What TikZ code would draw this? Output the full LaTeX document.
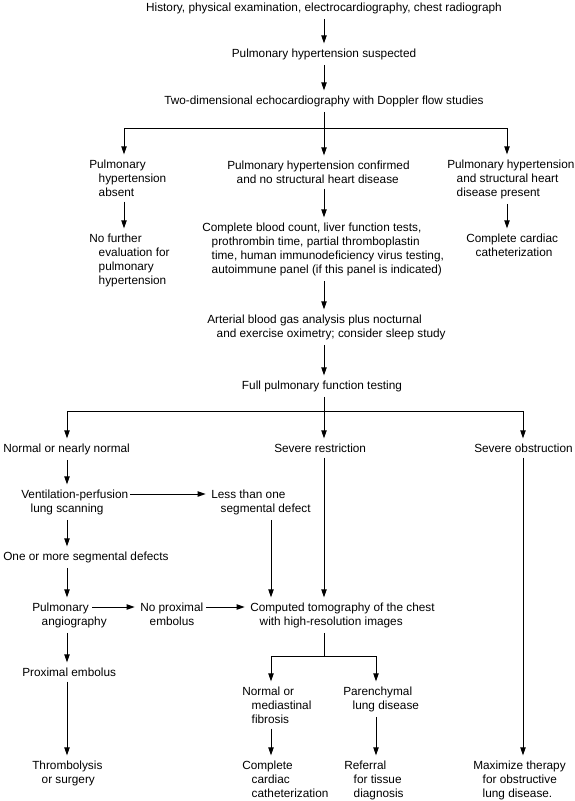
\documentclass[tikz,border=0pt]{standalone}
\usepackage{fontspec}
\setmainfont{Liberation Sans}
\usetikzlibrary{arrows.meta,calc}
\newcommand\hi{\hspace*{7.1pt}}
\begin{document}
\begin{tikzpicture}[x=0.75pt,y=-0.75pt,
  txt/.style={inner sep=0pt, anchor=north west, align=left, font=\fontsize{8.85pt}{10.5pt}\selectfont},
  ctxt/.style={txt, anchor=north},
  ln/.style={line width=0.75pt},
  arr/.style={ln, -{Triangle[length=6pt,width=4pt]}, shorten >=4pt},
  gs/.style={shorten <=3.5pt}]
\useasboundingbox (0,0) rectangle (575,801);

% nodes
\node[ctxt] (hist) at (324,2.7) {History, physical examination, electrocardiography, chest radiograph};
\node[ctxt] (susp) at (324,48.7) {Pulmonary hypertension suspected};
\node[ctxt] (echo) at (324,95.7) {Two-dimensional echocardiography with Doppler flow studies};
\node[txt] (absent) at (89,159.7) {Pulmonary\\\hi hypertension\\\hi absent};
\node[txt] (conf) at (227,160.7) {Pulmonary hypertension confirmed\\\hi and no structural heart disease};
\node[txt] (struct) at (447,159.7) {Pulmonary hypertension\\\hi and structural heart\\\hi disease present};
\node[txt] (nofur) at (89,233.7) {No further\\\hi evaluation for\\\hi pulmonary\\\hi hypertension};
\node[txt] (cbc) at (202,222.7) {Complete blood count, liver function tests,\\\hi prothrombin time, partial thromboplastin\\\hi time, human immunodeficiency virus testing,\\\hi autoimmune panel (if this panel is indicated)};
\node[txt] (cath1) at (466,233.7) {Complete cardiac\\\hi catheterization};
\node[txt] (abg) at (207,314.7) {Arterial blood gas analysis plus nocturnal\\\hi and exercise oximetry; consider sleep study};
\node[ctxt] (pft) at (322,380.7) {Full pulmonary function testing};
\node[txt] (normal) at (3,443.7) {Normal or nearly normal};
\node[txt] (restr) at (274,443.7) {Severe restriction};
\node[txt] (obstr) at (474,443.7) {Severe obstruction};
\node[txt] (vq) at (21,489.7) {Ventilation-perfusion\\\hi lung scanning};
\node[txt] (less) at (211,489.7) {Less than one\\\hi segmental defect};
\node[txt] (onemore) at (3,551.7) {One or more segmental defects};
\node[txt] (angio) at (32,602.7) {Pulmonary\\\hi angiography};
\node[txt] (noprox) at (140,602.7) {No proximal\\\hi embolus};
\node[txt] (ct) at (250,602.7) {Computed tomography of the chest\\\hi with high-resolution images};
\node[txt] (prox) at (22,667.7) {Proximal embolus};
\node[txt] (normfib) at (242,686.7) {Normal or\\\hi mediastinal\\\hi fibrosis};
\node[txt] (paren) at (343,686.7) {Parenchymal\\\hi lung disease};
\node[txt] (thromb) at (32,760.7) {Thrombolysis\\\hi or surgery};
\node[txt] (cath2) at (242,760.7) {Complete\\\hi cardiac\\\hi catheterization};
\node[txt] (referral) at (344,760.7) {Referral\\\hi for tissue\\\hi diagnosis};
\node[txt] (maxim) at (473,760.7) {Maximize therapy\\\hi for obstructive\\\hi lung disease.};

% columns and junctions
\coordinate (cC) at (324,0);
\coordinate (cL) at (124,0);
\coordinate (cR) at (507,0);
\coordinate (cL2) at (67,0);
\coordinate (cR2) at (523,0);
\coordinate (cS) at (271,0);
\coordinate (cP) at (376,0);
\coordinate (b1) at (324,128);
\coordinate (b2) at (324,411);
\coordinate (b3) at (324,656);

% connectors
\draw[arr,gs] (hist.south -| cC) -- (susp.north -| cC);
\draw[arr,gs] (susp.south -| cC) -- (echo.north -| cC);
\draw[ln,gs] (echo.south -| cC) -- (b1);
\draw[arr] (b1) -| (absent.north -| cL);
\draw[arr] (b1) -- (conf.north -| cC);
\draw[arr] (b1) -| (struct.north -| cR);
\draw[arr,gs] (absent.south -| cL) -- (nofur.north -| cL);
\draw[arr,gs] (conf.south -| cC) -- (cbc.north -| cC);
\draw[arr,gs] (struct.south -| cR) -- (cath1.north -| cR);
\draw[arr,gs] (cbc.south -| cC) -- (abg.north -| cC);
\draw[arr,gs] (abg.south -| cC) -- (pft.north -| cC);
\draw[ln,gs] (pft.south -| cC) -- (b2);
\draw[arr] (b2) -| (normal.north -| cL2);
\draw[arr] (b2) -- (restr.north -| cC);
\draw[arr] (b2) -| (obstr.north -| cR2);
\draw[arr,gs] (normal.south -| cL2) -- (vq.north -| cL2);
\draw[arr] ($(vq.north east)+(2,4.3)$) -- ($(less.north west)+(0,4.3)$);
\draw[arr,gs] (vq.south -| cL2) -- (onemore.north -| cL2);
\draw[arr,gs] (onemore.south -| cL2) -- (angio.north -| cL2);
\draw[arr,gs] (less.south -| cS) -- (ct.north -| cS);
\draw[arr,gs] (restr.south -| cC) -- (ct.north -| cC);
\draw[arr,gs] (obstr.south -| cR2) -- (maxim.north -| cR2);
\draw[arr] ($(angio.north west)+(60,4.3)$) -- ($(noprox.north west)+(0,4.3)$);
\draw[arr] ($(noprox.north east)+(3,4.3)$) -- ($(ct.north west)+(0,4.3)$);
\draw[arr,gs] (angio.south -| cL2) -- (prox.north -| cL2);
\draw[arr,gs] (prox.south -| cL2) -- (thromb.north -| cL2);
\draw[ln,gs] (ct.south -| cC) -- (b3);
\draw[arr] (b3) -| (normfib.north -| cS);
\draw[arr] (b3) -| (paren.north -| cP);
\draw[arr,gs] (normfib.south -| cS) -- (cath2.north -| cS);
\draw[arr,gs] (paren.south -| cP) -- (referral.north -| cP);
\end{tikzpicture}
\end{document}
